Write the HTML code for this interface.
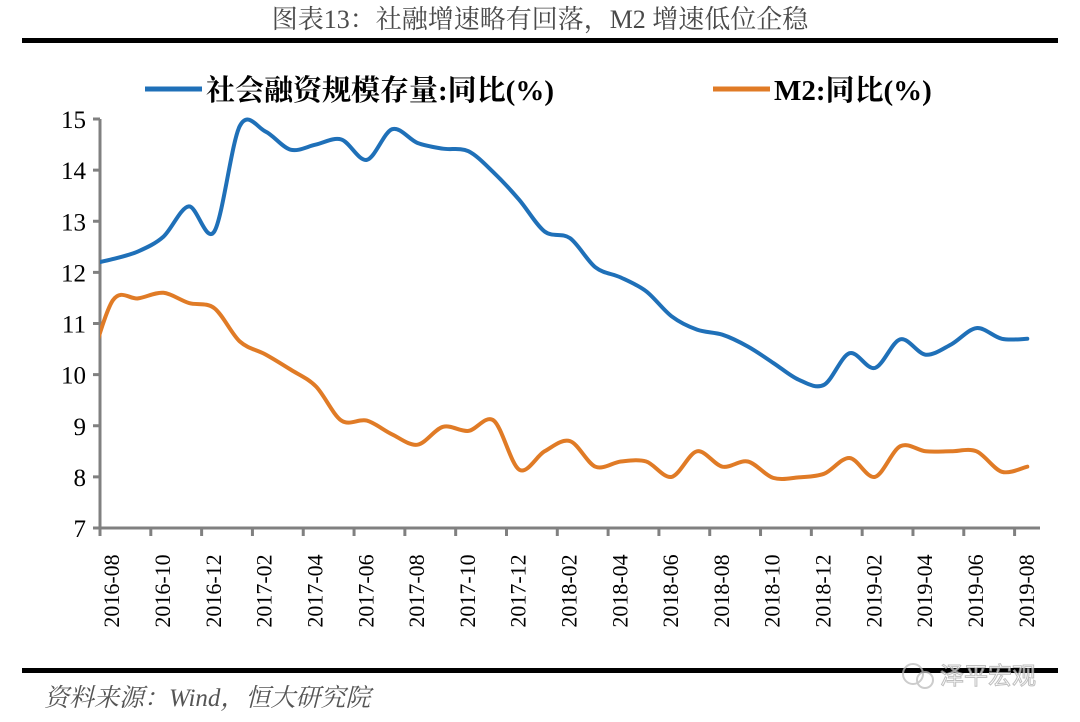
<!DOCTYPE html>
<html><head><meta charset="utf-8">
<style>
body{margin:0;background:#fff;}
#wrap{position:relative;width:1080px;height:722px;overflow:hidden;background:#fff;}
svg{position:absolute;left:0;top:0;}
</style></head>
<body>
<div id="wrap">
<svg id="chart" width="1080" height="722" xmlns="http://www.w3.org/2000/svg">
  <defs><clipPath id="plotclip"><rect x="100" y="60" width="960" height="480"/></clipPath></defs>
  <text x="540" y="28" text-anchor="middle" font-family="Liberation Serif, Noto Serif CJK SC, serif" font-size="26" fill="#4a4a4a">图表13：社融增速略有回落，M2 增速低位企稳</text>
  <rect x="22" y="38" width="1036" height="5" fill="#000"/>
  <g>
    <g>
      <line x1="145" y1="89" x2="202" y2="89" stroke="#1f70b8" stroke-width="5"/>
      <text x="206" y="100" font-family="Liberation Serif, Noto Serif CJK SC, serif" font-weight="bold" font-size="29" fill="#000">社会融资规模存量:同比(%)</text>
    </g>
    <g>
      <line x1="713" y1="89" x2="770" y2="89" stroke="#e07b26" stroke-width="5"/>
      <text x="774" y="100" font-family="Liberation Serif, Noto Serif CJK SC, serif" font-weight="bold" font-size="29" fill="#000">M2:同比(%)</text>
    </g>
  </g>
  <g id="axes"></g>
  <g id="series" clip-path="url(#plotclip)"></g>
  <rect x="22" y="668" width="1036" height="5" fill="#000"/>
  <text x="44" y="706" font-family="Liberation Serif, Noto Serif CJK SC, serif" font-style="italic" font-size="25" fill="#555">资料来源：Wind，恒大研究院</text>
  <g opacity="0.75">
    <circle cx="913" cy="674" r="10" fill="none" stroke="#bbb" stroke-width="2"/>
    <circle cx="925" cy="680" r="8" fill="none" stroke="#bbb" stroke-width="2"/>
    <text x="940" y="684" font-family="Noto Sans CJK SC, sans-serif" font-size="24" fill="#fff" stroke="#aaa" stroke-width="1">泽平宏观</text>
  </g>
</svg>
</div>
<script>
// first entry (2016-07) lies just left of the axis and is clipped; it only shapes the line start
const categories = ["2016-07","2016-08","2016-09","2016-10","2016-11","2016-12","2017-01","2017-02","2017-03","2017-04","2017-05","2017-06","2017-07","2017-08","2017-09","2017-10","2017-11","2017-12","2018-01","2018-02","2018-03","2018-04","2018-05","2018-06","2018-07","2018-08","2018-09","2018-10","2018-11","2018-12","2019-01","2019-02","2019-03","2019-04","2019-05","2019-06","2019-07","2019-08"];
const tsfValues = [12.15,12.26,12.41,12.7,13.29,12.8,14.86,14.76,14.4,14.5,14.6,14.2,14.8,14.53,14.42,14.37,13.95,13.42,12.8,12.67,12.1,11.9,11.63,11.14,10.88,10.78,10.55,10.23,9.9,9.8,10.42,10.13,10.69,10.39,10.59,10.91,10.7,10.7];
const m2Values = [10.0,11.45,11.49,11.6,11.4,11.3,10.65,10.4,10.1,9.77,9.1,9.1,8.83,8.63,8.98,8.9,9.1,8.14,8.5,8.7,8.2,8.3,8.3,8.0,8.5,8.2,8.3,7.98,7.99,8.06,8.37,8.0,8.6,8.5,8.5,8.5,8.1,8.2];
const yTicks = [7,8,9,10,11,12,13,14,15];

const NS = "http://www.w3.org/2000/svg";
const X0 = 100, X1 = 1040, Y0 = 528, Ytop = 119;
const nShown = categories.length - 1;
const step = (X1 - X0) / nShown;
function xScale(i){ return X0 + step * (i - 0.5); }
function yScale(v){ return Y0 - (v - 7) / (15 - 7) * (Y0 - Ytop); }
function mk(tag, attrs){ const e = document.createElementNS(NS, tag); for (const k in attrs) e.setAttribute(k, attrs[k]); return e; }

const axes = document.getElementById('axes');
const yAxis = mk('line', {x1:X0, y1:Ytop, x2:X0, y2:Y0, stroke:'#808080', 'stroke-width':3});


axes.appendChild(yAxis);
const xAxis = mk('line', {x1:X0-7, y1:Y0, x2:X1, y2:Y0, stroke:'#808080', 'stroke-width':3});


axes.appendChild(xAxis);

yTicks.forEach(v => {
  const y = yScale(v);
  const t = mk('line', {x1:X0-7, y1:y, x2:X0, y2:y, stroke:'#808080', 'stroke-width':3});
  
  
  axes.appendChild(t);
  const l = mk('text', {x:X0-14, y:y+9, 'text-anchor':'end', 'font-family':'Liberation Serif, serif', 'font-size':25, fill:'#000'});
  l.textContent = v;
  
  
  axes.appendChild(l);
});

categories.forEach((c, i) => {
  if (i === 0 || (i - 1) % 2 !== 0) return;
  const tx = X0 + step * (i - 1);
  const t = mk('line', {x1:tx, y1:Y0, x2:tx, y2:Y0+8, stroke:'#808080', 'stroke-width':3});
  
  
  axes.appendChild(t);
  const cx = xScale(i) - 1, cy = 591;
  const l = mk('text', {x:cx, y:cy, 'text-anchor':'middle', 'dominant-baseline':'central', 'font-family':'Liberation Serif, serif', 'font-size':22, fill:'#000', transform:'rotate(-90 '+cx+' '+cy+')'});
  l.textContent = c;
  
  
  axes.appendChild(l);
});

function smoothPath(vals){
  const p = vals.map((v,i) => [xScale(i), yScale(v)]);
  let d = 'M' + p[0][0].toFixed(1) + ',' + p[0][1].toFixed(1);
  for (let i = 0; i < p.length - 1; i++){
    const p0 = p[Math.max(i-1,0)], p1 = p[i], p2 = p[i+1], p3 = p[Math.min(i+2,p.length-1)];
    const t = 0.16;
    const c1 = [p1[0] + (p2[0]-p0[0])*t, p1[1] + (p2[1]-p0[1])*t];
    const c2 = [p2[0] - (p3[0]-p1[0])*t, p2[1] - (p3[1]-p1[1])*t];
    d += ' C' + c1[0].toFixed(1) + ',' + c1[1].toFixed(1) + ' ' + c2[0].toFixed(1) + ',' + c2[1].toFixed(1) + ' ' + p2[0].toFixed(1) + ',' + p2[1].toFixed(1);
  }
  return d;
}
const series = document.getElementById('series');
const tsfLine = mk('path', {d:smoothPath(tsfValues), fill:'none', stroke:'#1f70b8', 'stroke-width':4, 'stroke-linejoin':'round', 'stroke-linecap':'round'});


series.appendChild(tsfLine);
const m2Line = mk('path', {d:smoothPath(m2Values), fill:'none', stroke:'#e07b26', 'stroke-width':4, 'stroke-linejoin':'round', 'stroke-linecap':'round'});


series.appendChild(m2Line);
</script>
</body></html>
